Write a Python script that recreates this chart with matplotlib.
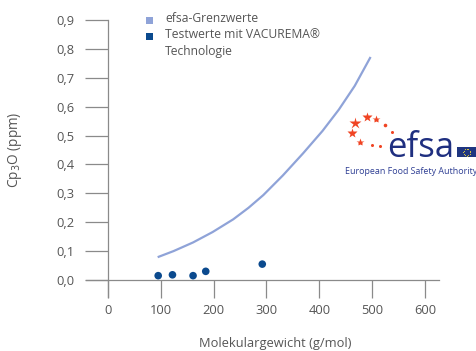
import matplotlib
matplotlib.use("Agg")
import matplotlib.pyplot as plt
from matplotlib.patches import Rectangle
import numpy as np

# ---- data ----
limit_x = [94, 124, 161, 198, 237, 266, 294, 331, 369, 406, 437, 467, 497]
limit_y = [0.079, 0.100, 0.130, 0.166, 0.210, 0.250, 0.294, 0.362, 0.438, 0.516, 0.590, 0.672, 0.772]
test_x = [95, 122, 161, 185, 292]
test_y = [0.015, 0.018, 0.015, 0.030, 0.055]
x_ticks = [0, 100, 200, 300, 400, 500, 600]
y_ticks = [0.0, 0.1, 0.2, 0.3, 0.4, 0.5, 0.6, 0.7, 0.8, 0.9]
y_tick_labels = ["0,0", "0,1", "0,2", "0,3", "0,4", "0,5", "0,6", "0,7", "0,8", "0,9"]
legend_labels = ["efsa-Grenzwerte", "Testwerte mit VACUREMA®", "Technologie"]
x_label = "Molekulargewicht (g/mol)"
y_label = "Cp$_3$O (ppm)"

LINE_C = "#8fa3d8"
DOT_C = "#0b4a8e"
AXIS_C = "#8a8a8a"
TEXT_C = "#555555"

plt.rcParams['font.family'] = ['Open Sans', 'DejaVu Sans']

W, H = 477, 351
fig = plt.figure(figsize=(W / 100, H / 100), dpi=100)
fig.patch.set_facecolor("white")

# axes box in pixels
L, R, T, B = 86, 439, 20, 297
ax = fig.add_axes([L / W, 1 - B / H, (R - L) / W, (B - T) / H])

# x: 0 -> 108 px, 600 -> 425 px
sx = (425 - 108) / 600.0
ax.set_xlim(-(108 - L) / sx, 600 + (R - 425) / sx)
# y: 0 -> 280 px, 0.9 -> 20 px
sy = (280 - 20) / 0.9
ax.set_ylim(-(B - 280) / sy, 0.9)

ax.plot(limit_x, limit_y, color=LINE_C, lw=1.6, solid_capstyle='butt',
        solid_joinstyle='round', zorder=3)
ax.scatter(test_x, test_y, s=30, color=DOT_C, edgecolors='none', zorder=4)

for s in ["top", "right"]:
    ax.spines[s].set_visible(False)
ax.spines["left"].set_position(("data", 0))
ax.spines["bottom"].set_position(("data", 0))
for s in ["left", "bottom"]:
    ax.spines[s].set_color(AXIS_C)
    ax.spines[s].set_linewidth(0.9)

ax.set_xticks(x_ticks)
ax.set_xticklabels([str(v) for v in x_ticks])
ax.set_yticks(y_ticks)
ax.set_yticklabels(y_tick_labels)
ax.tick_params(axis='x', direction='out', length=13, width=0.9, color=AXIS_C,
               labelcolor=TEXT_C, labelsize=9.3, pad=4.5)
ax.tick_params(axis='y', direction='out', length=16.5, width=0.9, color=AXIS_C,
               labelcolor=TEXT_C, labelsize=9.3, pad=7.5)
ax.patch.set_alpha(0)

fig.text(275 / W, 1 - 343 / H, x_label, ha='center', va='center',
         color=TEXT_C, fontsize=9.3)
fig.text(15 / W, 1 - 150 / H, y_label, ha='center', va='center',
         rotation=90, color=TEXT_C, fontsize=9.8)

# ---- overlay in pixel coordinates for legend and logo ----
lg = fig.add_axes([0, 0, 1, 1])
lg.set_xlim(0, W)
lg.set_ylim(H, 0)
lg.axis('off')
lg.patch.set_alpha(0)

# legend
lg.add_patch(Rectangle((146, 17), 7, 7, facecolor=LINE_C, edgecolor='none'))
lg.add_patch(Rectangle((146, 33), 7, 7, facecolor=DOT_C, edgecolor='none'))
for txt, yy in zip(legend_labels, [18.5, 35, 51.5]):
    lg.text(165, yy, txt, fontsize=8.7, color=TEXT_C, ha='left', va='center')

# efsa logo
STAR_C = "#f04423"
stars = [(355, 122.7, 9), (366.7, 117.3, 7), (376, 119.3, 6),
         (352.3, 132.7, 7), (360, 141.7, 6)]
for px, py, ms in stars:
    lg.plot(px, py, marker='*', ms=ms, color=STAR_C, mec='none', ls='none')
dots = [(385, 125, 2.6), (391.7, 131.7, 2.2), (371.7, 145, 2.2), (380, 146, 2.2)]
for px, py, ms in dots:
    lg.plot(px, py, marker='o', ms=ms, color=STAR_C, mec='none', ls='none')
lg.text(387, 157, "efsa", fontsize=25, color="#1f2f80", ha='left',
        va='baseline')
lg.add_patch(Rectangle((457, 147.3), 19.5, 10, facecolor="#1f3580",
                       edgecolor='none'))
ang = np.linspace(0, 2 * np.pi, 12, endpoint=False)
lg.plot(466.7 + 3.3 * np.cos(ang), 152.3 + 3.3 * np.sin(ang), 'o', ms=0.8,
        color="#e8d23a", mec='none')
lg.text(411, 171.5, "European Food Safety Authority", fontsize=6.4,
        color="#2f3f94", ha='center', va='center')

fig.savefig("out.png", dpi=100, facecolor="white")
